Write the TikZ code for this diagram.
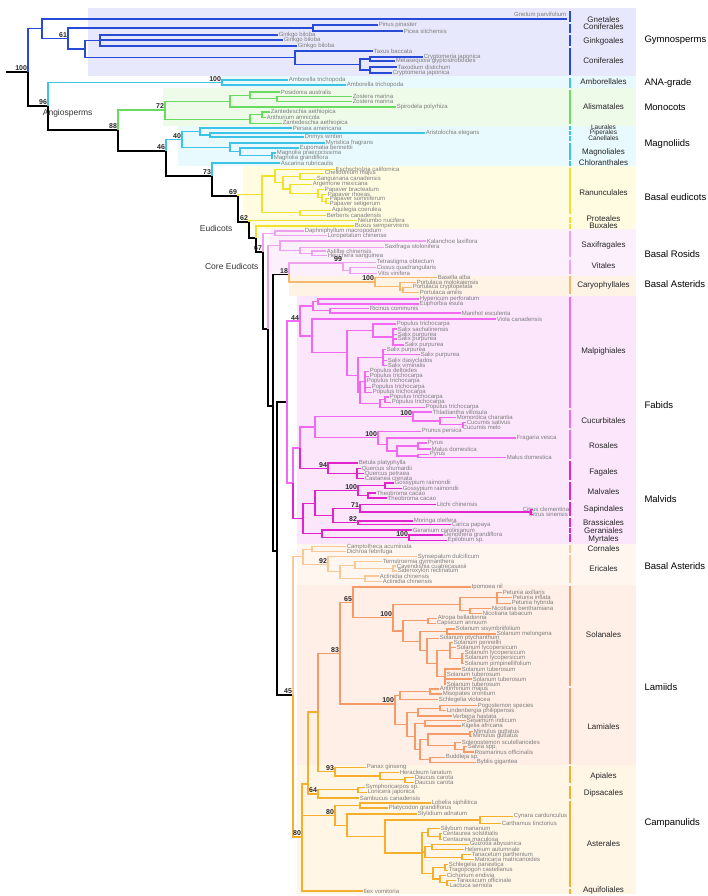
\documentclass[tikz,border=0pt]{standalone}
\usepackage{fontspec}
\setmainfont{Liberation Sans}
\usepackage{xcolor}
\definecolor{gymblue}{RGB}{40,75,215}
\definecolor{ambcyan}{RGB}{60,195,230}
\definecolor{monogreen}{RGB}{105,220,95}
\definecolor{ranyellow}{RGB}{240,225,45}
\definecolor{saxpink}{RGB}{240,160,240}
\definecolor{caryorange}{RGB}{245,185,110}
\definecolor{fabpink}{RGB}{240,105,240}
\definecolor{malvmag}{RGB}{225,35,205}
\definecolor{cornpeach}{RGB}{248,200,150}
\definecolor{lamsalmon}{RGB}{245,155,105}
\definecolor{campamber}{RGB}{245,175,45}
\definecolor{leafgray}{RGB}{125,125,125}
\definecolor{bggym}{RGB}{232,232,252}
\definecolor{bgcyan}{RGB}{232,250,253}
\definecolor{bggreen}{RGB}{238,251,233}
\definecolor{bgyellow}{RGB}{255,252,226}
\definecolor{bgsax}{RGB}{253,240,253}
\definecolor{bgcary}{RGB}{255,243,230}
\definecolor{bgros}{RGB}{252,230,252}
\definecolor{bgcorn}{RGB}{255,246,240}
\definecolor{bglam}{RGB}{255,239,230}
\definecolor{bgcamp}{RGB}{255,246,230}
\tikzset{
  branch/.style={line width=1.1pt},
  leaf/.style={anchor=west,inner sep=0.6pt,font=\fontsize{6}{6}\selectfont,text=leafgray},
  bs/.style={anchor=south east,inner sep=0.8pt,font=\bfseries\fontsize{7}{7}\selectfont,text=black!85},
  orderbar/.style={line width=1.4pt},
  ordername/.style={font=\fontsize{8}{8}\selectfont,text=black!85},
  smallorder/.style={font=\fontsize{6.5}{6.5}\selectfont,text=black!85},
  groupname/.style={anchor=west,font=\fontsize{9.5}{10}\selectfont,text=black},
  cladename/.style={anchor=east,font=\fontsize{8.5}{9}\selectfont,text=black!80}
}

\begin{document}
\begin{tikzpicture}[x=1pt,y=-1pt]
\useasboundingbox (0,0) rectangle (708,896);

% shaded bands
\fill[bggym] (88,8) rectangle (636,76);
\fill[bgcyan] (220,76) rectangle (636,88);
\fill[bggreen] (163,88) rectangle (636,126);
\fill[bgcyan] (178,126) rectangle (636,166);
\fill[bgyellow] (243,166) rectangle (636,229);
\fill[bgsax] (270,229) rectangle (636,276);
\fill[bgcary] (289,276) rectangle (636,296);
\fill[bgros] (297,296) rectangle (636,544);
\fill[bgcorn] (297,544) rectangle (636,585);
\fill[bglam] (297,585) rectangle (636,765);
\fill[bgcamp] (297,765) rectangle (636,894);

% tips
\foreach \nm/\x/\y/\lab in {
  pin/378/25/Pinus pinaster, pic/403/31/Picea sitchensis,
  gi1/278/35/Ginkgo biloba, gi2/283/40/Ginkgo biloba, gi3/297/46/Ginkgo biloba,
  tax/373/51/Taxus baccata, cr1/423/57/Cryptomeria japonica,
  met/395/61/Metasequoia glyptostroboides, txd/397/67/Taxodium distichum,
  cr2/392/73/Cryptomeria japonica,
  am1/288/80/Amborella trichopoda, am2/346/85/Amborella trichopoda,
  pos/280/92/Posidonia australis, zo1/352/96.3/Zostera marina,
  zo2/352/101.3/Zostera marina, spi/396/107/Spirodela polyrhiza,
  za1/270/112/Zantedeschia aethiopica, ant/266/117.7/Anthurium amnicola,
  za2/282/123.3/Zantedeschia aethiopica,
  per/292/128/Persea americana, ari/425/133/Aristolochia elegans,
  dri/304/137/Drimys winteri, myr/325/143/Myristica fragrans,
  eup/299/148/Eupomatia bennettii, mgp/276/153/Magnolia praecocissima,
  mgg/273/158/Magnolia grandiflora, asc/280/163/Ascarina rubricaulis,
  esc/335/169.3/Eschscholzia californica, che/324/173.3/Chelidonium majus,
  san/316/179.3/Sanguinaria canadensis, arg/312/184.3/Argemone mexicana,
  pbr/324/189.7/Papaver bracteatum, prh/327/194.7/Papaver rhoeas,
  pso/329/198.7/Papaver somniferum, pse/329/203.7/Papaver setigerum,
  aqu/331/210.3/Aquilegia coerulea, ber/326/215.3/Berberis canadensis,
  nel/357/220.3/Nelumbo nucifera, bux/354/226/Buxus sempervirens,
  dap/304/231/Daphniphyllum macropodum, lor/327/235.7/Loropetalum chinense,
  kal/426/241/Kalanchoe laxiflora, sax/384/247.3/Saxifraga stolonifera,
  ast/326/251/Astilbe chinensis, heu/327/255.7/Heuchera sanguinea,
  tet/376/262.3/Tetrastigma obtectum, cis/376/267.7/Cissus quadrangularis,
  vit/377/273.3/Vitis vinifera,
  bas/437/277.7/Basella alba, pmo/416/282.3/Portulaca molokaiensis,
  pcr/412/287.3/Portulaca cryptopetala, pam/419/292.7/Portulaca amilis,
  hyp/419/299/Hypericum perforatum, eph/419/304/Euphorbia esula,
  ric/369/308.3/Ricinus communis, man/461/313/Manihot esculenta,
  vio/496/319/Viola canadensis, pt1/396/324/Populus trichocarpa,
  ssa/397/329/Salix sachalinensis, sp1/397/334.7/Salix purpurea,
  sp2/397/339/Salix purpurea, sp3/404/345/Salix purpurea,
  sp4/386/349.7/Salix purpurea, sp5/420/354.7/Salix purpurea,
  sda/387/360.7/Salix dasyclados, svi/387/365.7/Salix viminalis,
  pde/369/371.3/Populus deltoides, pt2/369/376.3/Populus trichocarpa,
  pt3/366/381.3/Populus trichocarpa, pt4/371/387.3/Populus trichocarpa,
  pt5/372/392.3/Populus trichocarpa, pt6/389/397/Populus trichocarpa,
  pt7/391/402.3/Populus trichocarpa, pt8/425/407.3/Populus trichocarpa,
  tha/432/412/Thladiantha villosula, mom/456/417.3/Momordica charantia,
  csa/466/422.3/Cucumis sativus, cme/462/427.3/Cucumis melo,
  pru/421/431.3/Prunus persica, fra/516/438/Fragaria vesca,
  py1/427/443/Pyrus, ma1/431/449/Malus domestica,
  py2/429/454.3/Pyrus, ma2/506/457.7/Malus domestica,
  bet/358/463/Betula platyphylla, qsh/361/468.7/Quercus shumardii,
  qpe/364/473.7/Quercus petraea, cas/364/478.7/Castanea crenata,
  gr1/394/483/Gossypium raimondii, gr2/402/488.7/Gossypium raimondii,
  th1/376/493/Theobroma cacao, th2/387/498/Theobroma cacao,
  lit/436/504.3/Litchi chinensis,
  mor/413/521/Moringa oleifera, car/451/524.7/Carica papaya,
  ger/412/530/Geranium carolinianum,
  oen/443/535/Oenothera grandiflora, epi/447/540.3/Epilobium sp.,
  cam/346/546.7/Camptotheca acuminata, dic/346/551.7/Dichroa febrifuga,
  symp/417/556.7/Synsepalum dulcificum, ter/382/561.7/Ternstroemia gymnanthera,
  cav/396/566/Cavendishia cuatrecasasii, sid/397/571/Sideroxylon reclinatum,
  ac1/379/576/Actinidia chinensis, ac2/382/581.3/Actinidia chinensis,
  ipo/471/587/Ipomoea nil, pax/502/592.7/Petunia axillaris,
  pif/512/597.7/Petunia inflata, phy/511/603.3/Petunia hybrida,
  nbe/491/608.3/Nicotiana benthamiana, nta/482/613.3/Nicotiana tabacum,
  atr/437/618.3/Atropa belladonna, cap/436/623.3/Capsicum annuum,
  ssi/455/629/Solanum sisymbriifolium, mel/496/634/Solanum melongena,
  pty/439/638.3/Solanum ptychanthum, pen/453/642.7/Solanum pennellii,
  ly1/456/647.7/Solanum lycopersicum, ly2/464/653.3/Solanum lycopersicum,
  ly3/464/658.3/Solanum lycopersicum, pim/464/663.7/Solanum pimpinellifolium,
  tu1/461/669/Solanum tuberosum, tu2/446/674/Solanum tuberosum,
  tu3/472/679/Solanum tuberosum, tu4/446/684/Solanum tuberosum,
  anm/439/689/Antirrhinum majus, mis/442/694/Misopates orontium,
  sch/438/699.7/Schlegelia violacea, pog/477/705.7/Pogostemon species,
  lin/446/710.7/Lindenbergia philippensis, ver/452/716/Verbena hastata,
  ses/466/720.7/Sesamum indicum, kig/461/726/Kigelia africana,
  mi1/473/731.7/Mimulus guttatus, mi2/472/736.3/Mimulus guttatus,
  sol/461/742.3/Solenostemon scutellarioides, sal/467/746.7/Salvia spp.,
  ros/474/752/Rosmarinus officinalis, bud/445/757.3/Buddleja sp.,
  byb/476/762.3/Byblis gigantea,
  pan/366/767.3/Panax ginseng, her/399/772.3/Heracleum lanatum,
  dc1/414/777.3/Daucus carota, dc2/414/782.3/Daucus carota,
  sy/365/787.3/Symphoricarpos sp., lon/367/792.3/Lonicera japonica,
  sam/359/798/Sambucus canadensis, lob/431/803/Lobelia siphilitica,
  pla/388/808/Platycodon grandiflorus, sty/417/814/Stylidium adnatum,
  cyn/513/816.3/Cynara cardunculus, cth/501/823.7/Carthamus tinctorius,
  sil/440/828.7/Silybum marianum, cso/442/833.7/Centaurea solstitialis,
  cma/442/839.3/Centaurea maculosa, gui/469/844.3/Guizotia abyssinica,
  hel/464/849.3/Helenium autumnale, tan/471/854.7/Tanacetum parthenium,
  mat/474/859.7/Matricaria matricarioides, sc2/448/864.7/Schlegelia parasitica,
  tra/448/870.3/Tragopogon castellanus, cie/446/875.3/Cichorium endivia,
  tar/456/880.3/Taraxacum officinale, lac/449/885.3/Lactuca serriola,
  ile/363/891/Ilex vomitoria}{
  \coordinate (\nm) at (\x,\y);
  \node[leaf] (\nm-t) at (\nm) {\lab};
}

% tips whose text is set back
\coordinate (gne) at (567,19);
\node[leaf,anchor=south east] (gne-t) at (gne) {Gnetum parvifolium};
\coordinate (cic) at (533,509.7);
\node[leaf] (cic-t) at ([xshift=-11pt]cic) {Citrus clementina};
\coordinate (csi) at (533,514.3);
\node[leaf] (csi-t) at ([xshift=-5pt]csi) {Citrus sinensis};

% inner nodes
\foreach \nm/\x/\y in {
  nroot/28/72, ngym/42/28.8, ngy61/68/38.5, npina/313/28, ngy3/85/49,
  ngink/100/40.3, ntaxc/295/57.8, ncup/360/64.5, ncupa/370/59, ncupb/370/70,
  nang/48/106, namb/222/82.5, nA2/118/130, nmon/165/110, nps/230/101.2,
  npz/250/95.4, nzos/277/98.8, nara/250/119.1, naa/262/114.9,
  nA3/166/151, nmagn/182/139.5, nlp/200/131.5, nap/210/135, nmg/230/147.4,
  nmg2/240/151.8, nmag2/272/155.5, nA4/212/176,
  neud/238/196, nran/262/194.4, npapv/275/176, np1/283/182.6, ncs/300/176.3,
  nargp/290/189, npap/318/193.8, npap2/322/197.9, npap3/326/201.2, nab/300/212.8,
  ne62/249/222, ne63/256/238, nce/263/252, ndl/275/233.4,
  n268/268/329, nsxa/280/245.7, nsxb/300/250.3, nsxc/312/253.4,
  n273/273/406, n18/289/274.2, nvit/343/263, nvcv/350/270.5,
  ncar/375/282, npor/400/286.2, npp/403/290,
  n277/277/551, nros/287/402, n44/300/321, neu/313/306, nhe/318/301.5,
  nrm/330/310.7, nvs/312/336, nsal/347/352.8, nsa2/373/330.5, nsa1/393/337,
  nsb/358/375.1, nsa3/383/357.7, npo/360/392.6, npo1/365/381.8,
  npo3/380/403.5, npo2/385/399.7,
  nrr/293/483, nfb/300/448, ncr/315/427, ncu/413/416.5, nmc/440/421,
  ncuc/463/424.8, nro/378/437.9, nfp/387/444.5, npm/397/451, npm1/418/446,
  npm2/418/456, nfa/328/468.4, nqc/357/473.7,
  nmalv/303/518.5, nms/315/503.1, nmv/358/490.7, ngg/385/485.8, ntt/368/495.5,
  nsb2/333/515.5, nsp/360/508.2, nci/531/512, nbr/358/522.9, ngm/322/533.9,
  nmy/409/537.7,
  nast/293/695, nce3/303/556.7, nco/312/549.2, ner/328/564.3, ner2/340/571.9,
  ne1/355/565.1, ncs2/393/568.5, nact/365/578.7,
  nx302/302/837, nx308/308/784, nx318/318/712, nl83/340/653.2, nl65/353/602.4,
  nsolan/393/617.7, npn/460/604.4, npet/497/597.9, nnic/470/610.8,
  nsc/403/631, nac/428/620.8, nsp2/420/641.2, nsm/447/631.5, npt/427/650.9,
  ntl/437/663.5, nlp2/450/650.6, nlyc/462/658.4, ntub/445/676.5,
  nla/395/704, nams/400/695.6, nam/430/691.5, ncore/407/724.4, nplv/418/712.1,
  npl/440/708.2, nsky/415/736.6, nsk/425/723.4, nmy2/420/749.9, nmx/428/739.9,
  nmm/470/734, ns2/455/745.8, ns1/464/749.3, nbb/430/759.8,
  nap2/335/771.7, nhd/380/776, ndd/405/779.8, ndi/318/794, nsl/358/789.8,
  nas/335/815.4, nlp3/360/805.5, nsa/347/825.3, nasc/385/836.5, ncc/480/820,
  na2/422/853, ncen/428/832.6, ncn2/440/836.5, nght/425/852, ngh/432/846.8,
  ntm/462/857.2, nch/433/873.3, nst/445/867.5, nctl/440/879, ntl2/447/882.8}
  \coordinate (\nm) at (\x,\y);

\coordinate (rootin) at (6,72);
\draw[branch] (rootin) -- (nroot);

% backbone
\foreach \p/\c in {nroot/nang, nang/nA2, nA2/nA3, nA3/nA4, nA4/neud, neud/ne62,
  ne62/ne63, ne63/nce, nce/n268, n268/n273, n273/n18, n273/n277, n277/nros,
  n277/nast}
  \draw[branch] (\p) |- (\c);

% gymnosperms
\foreach \p/\c in {nroot/ngym, ngym/gne, ngym/ngy61, ngy61/npina, ngy61/ngy3,
  npina/pin, npina/pic, ngy3/ngink, ngy3/ntaxc, ngink/gi1, ngink/gi2, ngink/gi3,
  ntaxc/tax, ntaxc/ncup, ncup/ncupa, ncup/ncupb, ncupa/cr1, ncupa/met,
  ncupb/txd, ncupb/cr2}
  \draw[branch,gymblue] (\p) |- (\c);

% ANA grade, magnoliids
\foreach \p/\c in {nang/namb, namb/am1, namb/am2, nA3/nmagn, nmagn/nlp,
  nmagn/nmg, nlp/per, nlp/nap, nap/ari, nap/dri, nmg/myr, nmg/nmg2, nmg2/eup,
  nmg2/nmag2, nmag2/mgp, nmag2/mgg, nA4/asc}
  \draw[branch,ambcyan] (\p) |- (\c);

% monocots
\foreach \p/\c in {nA2/nmon, nmon/nps, nmon/nara, nps/npz, nps/spi, npz/pos,
  npz/nzos, nzos/zo1, nzos/zo2, nara/naa, nara/za2, naa/za1, naa/ant}
  \draw[branch,monogreen] (\p) |- (\c);

% basal eudicots
\foreach \p/\c in {neud/nran, nran/npapv, nran/nab, npapv/esc, npapv/np1,
  np1/ncs, np1/nargp, ncs/che, ncs/san, nargp/arg, nargp/npap, npap/pbr,
  npap/npap2, npap2/prh, npap2/npap3, npap3/pso, npap3/pse, nab/aqu, nab/ber,
  ne62/nel, ne63/bux}
  \draw[branch,ranyellow] (\p) |- (\c);

% saxifragales, vitales
\foreach \p/\c in {nce/ndl, ndl/dap, ndl/lor, n268/nsxa, nsxa/kal, nsxa/nsxb,
  nsxb/sax, nsxb/nsxc, nsxc/ast, nsxc/heu, n18/nvit, nvit/tet, nvit/nvcv,
  nvcv/cis, nvcv/vit}
  \draw[branch,saxpink] (\p) |- (\c);

% caryophyllales
\foreach \p/\c in {n18/ncar, ncar/bas, ncar/npor, npor/pmo, npor/npp, npp/pcr,
  npp/pam}
  \draw[branch,caryorange] (\p) |- (\c);

% fabids
\foreach \p/\c in {nros/n44, nros/nrr, n44/neu, n44/nvs, neu/nhe, neu/nrm,
  nhe/hyp, nhe/eph, nrm/ric, nrm/man, nvs/vio, nvs/nsal, nsal/nsa2, nsal/nsb,
  nsa2/pt1, nsa2/nsa1, nsa1/ssa, nsa1/sp1, nsa1/sp2, nsa1/sp3, nsb/nsa3,
  nsb/npo, nsa3/sp4, nsa3/sp5, nsa3/sda, nsa3/svi, npo/npo1, npo/npo3,
  npo1/pde, npo1/pt2, npo1/pt3, npo1/pt4, npo1/pt5, npo3/npo2, npo3/pt8,
  npo2/pt6, npo2/pt7, nrr/nfb, nfb/ncr, ncr/ncu, ncr/nro, ncu/tha, ncu/nmc,
  nmc/mom, nmc/ncuc, ncuc/csa, ncuc/cme, nro/pru, nro/nfp, nfp/fra, nfp/npm,
  npm/npm1, npm/npm2, npm1/py1, npm1/ma1, npm2/py2, npm2/ma2}
  \draw[branch,fabpink] (\p) |- (\c);

% fagales, malvids
\foreach \p/\c in {nfb/nfa, nfa/bet, nfa/nqc, nqc/qsh, nqc/qpe, nqc/cas,
  nrr/nmalv, nmalv/nms, nmalv/ngm, nms/nmv, nms/nsb2, nmv/ngg, nmv/ntt,
  ngg/gr1, ngg/gr2, ntt/th1, ntt/th2, nsb2/nsp, nsb2/nbr, nsp/lit, nsp/nci,
  nci/cic, nci/csi, nbr/mor, nbr/car, ngm/ger, ngm/nmy, nmy/oen, nmy/epi}
  \draw[branch,malvmag] (\p) |- (\c);

% cornales, ericales
\foreach \p/\c in {nast/nce3, nce3/nco, nce3/ner, nco/cam, nco/dic, ner/symp,
  ner/ner2, ner2/ne1, ner2/nact, ne1/ter, ne1/ncs2, ncs2/cav, ncs2/sid,
  nact/ac1, nact/ac2}
  \draw[branch,cornpeach] (\p) |- (\c);

% lamiids
\foreach \p/\c in {nx318/nl83, nl83/nl65, nl83/nla, nl65/ipo, nl65/nsolan,
  nsolan/npn, nsolan/nsc, npn/npet, npn/nnic, npet/pax, npet/pif, npet/phy,
  nnic/nbe, nnic/nta, nsc/nac, nsc/nsp2, nac/atr, nac/cap, nsp2/nsm,
  nsp2/npt, nsm/ssi, nsm/mel, npt/pty, npt/ntl, ntl/nlp2, ntl/ntub, nlp2/pen,
  nlp2/ly1, nlp2/nlyc, nlyc/ly2, nlyc/ly3, nlyc/pim, ntub/tu1, ntub/tu2,
  ntub/tu3, ntub/tu4, nla/nams, nla/ncore, nams/nam, nams/sch, nam/anm,
  nam/mis, ncore/nplv, ncore/nsky, nplv/npl, nplv/ver, npl/pog, npl/lin,
  nsky/nsk, nsky/nmy2, nsk/ses, nsk/kig, nmy2/nmx, nmy2/nbb, nmx/nmm,
  nmx/ns2, nmm/mi1, nmm/mi2, ns2/sol, ns2/ns1, ns1/sal, ns1/ros, nbb/bud,
  nbb/byb}
  \draw[branch,lamsalmon] (\p) |- (\c);

% campanulids
\foreach \p/\c in {nast/nx302, nx302/nx308, nx302/nas, nx302/ile,
  nx308/nx318, nx308/ndi, nx318/nap2, nap2/pan, nap2/nhd, nhd/her, nhd/ndd,
  ndd/dc1, ndd/dc2, ndi/nsl, ndi/sam, nsl/sy, nsl/lon, nas/nlp3, nas/nsa,
  nlp3/lob, nlp3/pla, nsa/sty, nsa/nasc, nasc/ncc, nasc/na2, ncc/cyn,
  ncc/cth, na2/ncen, na2/nght, na2/nch, ncen/sil, ncen/ncn2, ncn2/cso,
  ncn2/cma, nght/ngh, nght/ntm, ngh/gui, ngh/hel, ntm/tan, ntm/mat,
  nch/nst, nch/nctl, nst/sc2, nst/tra, nctl/cie, nctl/ntl2, ntl2/tar,
  ntl2/lac}
  \draw[branch,campamber] (\p) |- (\c);

% support values
\foreach \nm/\v in {nroot/100, ngy61/61, nang/96, namb/100, nA2/88, nmon/72,
  nmagn/40, nA3/46, nA4/73, neud/69, ne62/62, nce/67, n18/18, nvit/99,
  ncar/100, n44/44, ncu/100, nro/100, nfa/94, nmv/100, nsp/71, nbr/82,
  nmy/100, ner/92, nl65/65, nsolan/100, nl83/83, nast/45, nla/100,
  nap2/93, ndi/64, nas/80, nx302/80}
  \node[bs] (bs-\nm) at (\nm) {\v};

% clade names
\node[cladename] (angio) at (96,113) {Angiosperms};
\node[cladename] (eudi) at (236,228) {Eudicots};
\node[cladename] (coreeudi) at (262,266) {Core Eudicots};

% order bars
\foreach \ya/\yb/\col in {11/22/gymblue, 24/33/gymblue, 35/46/gymblue,
  48/75/gymblue, 78/88/ambcyan, 90/124/monogreen, 126/130/ambcyan,
  131/135/ambcyan, 136/141/ambcyan, 143/160/ambcyan, 161/166/ambcyan,
  168/214/ranyellow, 217/223/ranyellow, 224/229/ranyellow, 231/257/saxpink,
  260/274/saxpink, 276/294/caryorange, 297/408/fabpink, 410/428/fabpink,
  430/459/fabpink, 461/480/malvmag, 482/500/malvmag, 502/516/malvmag,
  518/527/malvmag, 528/533/malvmag, 534/542/malvmag, 545/553/cornpeach,
  555/583/cornpeach, 586/686/lamsalmon, 688/764/lamsalmon,
  766/783/campamber, 786/799/campamber, 801/887/campamber,
  889/894/campamber}
  \draw[orderbar,draw=\col] (570,\ya) -- (570,\yb);

% order names
\foreach \yy/\lab [count=\i] in {20/Gnetales, 27/Coniferales, 41/Ginkgoales,
  61/Coniferales, 82/Amborellales, 107/Alismatales, 152/Magnoliales,
  163/Chloranthales, 193/Ranunculales, 219/Proteales, 226/Buxales,
  245/Saxifragales, 266/Vitales, 285/Caryophyllales, 351/Malpighiales,
  421/Cucurbitales, 446/Rosales, 472/Fagales, 492/Malvales, 509/Sapindales,
  523/Brassicales, 531/Geraniales, 539/Myrtales, 549/Cornales, 569/Ericales,
  635/Solanales, 727/Lamiales, 776/Apiales, 793/Dipsacales, 844/Asterales,
  890/Aquifoliales}
  \node[ordername] (ord\i) at (603.5,\yy) {\lab};
\foreach \yy/\lab [count=\i] in {127.5/Laurales, 133/Piperales, 138.5/Canellales}
  \node[smallorder] (sord\i) at (603.5,\yy) {\lab};

% group names
\foreach \yy/\lab [count=\i] in {40/Gymnosperms, 83/ANA-grade, 107/Monocots,
  144/Magnoliids, 197/Basal eudicots, 254/Basal Rosids, 284/Basal Asterids,
  405/Fabids, 499/Malvids, 566/Basal Asterids, 687/Lamiids, 823/Campanulids}
  \node[groupname] (grp\i) at (641,\yy) {\lab};

\end{tikzpicture}
\end{document}
